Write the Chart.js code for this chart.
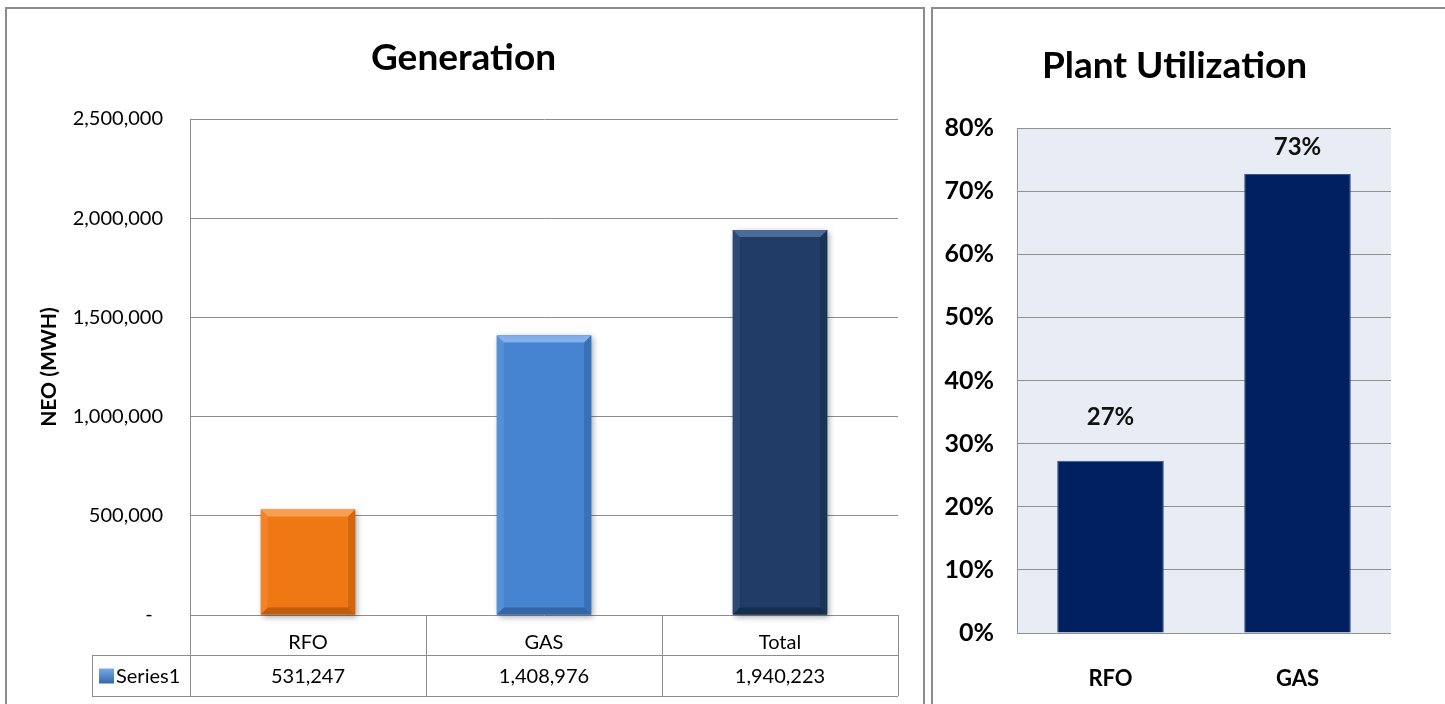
<!DOCTYPE html>
<html>
<head>
<meta charset="utf-8">
<script src="https://cdn.jsdelivr.net/npm/chart.js@4.4.1/dist/chart.umd.min.js"></script>
<style>
  body { margin: 0; width: 1445px; height: 704px; overflow: hidden; background: #fff; font-family: Lato, sans-serif; }
  .panel { position: absolute; border: 2px solid #8c8c8c; box-sizing: border-box; }
  canvas { position: absolute; }
</style>
</head>
<body>
<div class="panel" style="left:5px; top:7px; width:920px; height:720px;"></div>
<div class="panel" style="left:931px; top:7px; width:540px; height:720px;"></div>
<canvas id="genChart" width="915" height="694" style="left:8px; top:10px;"></canvas>
<canvas id="utilChart" width="511" height="694" style="left:934px; top:10px;"></canvas>
<script>
// Generation data (MWH)
const genCategories = ["RFO", "GAS", "Total"];
const genValues = [531247, 1408976, 1940223];
const genSeriesName = "Series1";
const genMax = 2500000;
const genStep = 500000;

// Plant utilization data
const utilCategories = ["RFO", "GAS"];
const utilValues = [0.273, 0.727];
const utilLabels = ["27%", "73%"];
const utilMax = 0.8;
const utilStep = 0.1;

// bar colours: main, light edge, dark edge
const genColors = [
  ["#f07814", "#f7a35a", "#a9520c"],
  ["#4683d0", "#86b6ec", "#2b5a96"],
  ["#1f3d66", "#4f719e", "#132843"]
];

const FONT = "Lato, 'Open Sans', sans-serif";
const gridGray = "#8c8c8c";

function fmt(v) {
  return v.toLocaleString("en-US");
}

// chart title drawn at a fixed spot (the Excel title is centred on the whole panel)
function titlePlugin(text, x, y, size) {
  return {
    id: "panelTitle",
    afterDraw(chart) {
      const ctx = chart.ctx;
      ctx.save();
      ctx.fillStyle = "#000";
      ctx.font = "bold " + size + "px " + FONT;
      ctx.textAlign = "center";
      ctx.textBaseline = "middle";
      ctx.fillText(text, x, y);
      ctx.restore();
    }
  };
}

// drop shadow under the bevel bars
const barShadow = {
  id: "barShadow",
  beforeDatasetsDraw(chart) {
    const ctx = chart.ctx;
    const meta = chart.getDatasetMeta(0);
    ctx.save();
    ctx.shadowColor = "rgba(0,0,0,0.35)";
    ctx.shadowBlur = 6;
    ctx.shadowOffsetX = 2;
    ctx.shadowOffsetY = 2;
    meta.data.forEach((bar, i) => {
      ctx.fillStyle = genColors[i][0];
      ctx.fillRect(bar.x - bar.width / 2, bar.y, bar.width, bar.base - bar.y);
    });
    ctx.restore();
  },
  afterDatasetsDraw(chart) {
    const ctx = chart.ctx;
    const meta = chart.getDatasetMeta(0);
    const b = 7;
    meta.data.forEach((bar, i) => {
      const l = bar.x - bar.width / 2, r = bar.x + bar.width / 2;
      const t = bar.y, bot = bar.base;
      const c = genColors[i];
      const poly = (pts, col, alpha) => {
        ctx.save();
        ctx.globalAlpha = alpha;
        ctx.fillStyle = col;
        ctx.beginPath();
        ctx.moveTo(pts[0][0], pts[0][1]);
        for (let k = 1; k < pts.length; k++) ctx.lineTo(pts[k][0], pts[k][1]);
        ctx.closePath();
        ctx.fill();
        ctx.restore();
      };
      poly([[l, t], [r, t], [r - b, t + b], [l + b, t + b]], c[1], 0.9);
      poly([[l, t], [l + b, t + b], [l + b, bot - b], [l, bot]], c[1], 0.25);
      poly([[r, t], [r, bot], [r - b, bot - b], [r - b, t + b]], c[2], 0.45);
      poly([[l, bot], [l + b, bot - b], [r - b, bot - b], [r, bot]], c[2], 0.7);
    });
  }
};

// data table under the generation chart
const dataTable = {
  id: "dataTable",
  afterDraw(chart) {
    const ctx = chart.ctx;
    const area = chart.chartArea;
    const x = chart.scales.x;
    const half = (x.getPixelForValue(1) - x.getPixelForValue(0)) / 2;
    const rowTop = area.bottom + 40;
    const rowBot = area.bottom + 81;
    const legLeft = 84;
    ctx.save();
    ctx.strokeStyle = gridGray;
    ctx.lineWidth = 1;
    ctx.beginPath();
    // column separators
    for (let i = 0; i < genCategories.length; i++) {
      const xr = Math.round(x.getPixelForValue(i) + half) + 0.5;
      ctx.moveTo(xr, area.bottom);
      ctx.lineTo(xr, rowBot);
    }
    const xl = Math.round(area.left) + 0.5;
    ctx.moveTo(xl, area.bottom);
    ctx.lineTo(xl, rowBot);
    ctx.moveTo(legLeft + 0.5, rowTop);
    ctx.lineTo(legLeft + 0.5, rowBot);
    ctx.moveTo(legLeft, rowTop + 0.5);
    ctx.lineTo(area.right, rowTop + 0.5);
    ctx.moveTo(legLeft, rowBot + 0.5);
    ctx.lineTo(area.right, rowBot + 0.5);
    ctx.stroke();

    const midY = (rowTop + rowBot) / 2 + 1;
    // legend key
    const g = ctx.createLinearGradient(0, midY - 8, 0, midY + 8);
    g.addColorStop(0, "#7aaae4");
    g.addColorStop(1, "#2f62a8");
    ctx.fillStyle = g;
    ctx.fillRect(legLeft + 7, midY - 8, 15, 15);
    ctx.fillStyle = "#000";
    ctx.font = "20px " + FONT;
    ctx.textBaseline = "middle";
    ctx.textAlign = "left";
    ctx.fillText(genSeriesName, legLeft + 24, midY);
    ctx.textAlign = "center";
    genValues.forEach((v, i) => {
      ctx.fillText(fmt(v), x.getPixelForValue(i), midY);
    });
    ctx.restore();
  }
};

new Chart(document.getElementById("genChart"), {
  type: "bar",
  data: {
    labels: genCategories,
    datasets: [{
      label: genSeriesName,
      data: genValues,
      backgroundColor: genColors.map(c => c[0]),
      barPercentage: 0.40,
      categoryPercentage: 1.0
    }]
  },
  options: {
    responsive: false,
    animation: false,
    layout: { padding: { left: 0, right: 25, top: 109, bottom: 0 } },
    plugins: {
      legend: { display: false },
      tooltip: { enabled: false },
      title: { display: false }
    },
    scales: {
      x: {
        grid: { display: false },
        border: { display: false },
        ticks: { color: "#000", font: { family: FONT, size: 20 }, padding: 8 },
        afterFit(scale) { scale.height = 89; }
      },
      y: {
        min: 0,
        max: genMax,
        ticks: {
          stepSize: genStep,
          color: "#000",
          font: { family: FONT, size: 20 },
          padding: 27,
          callback: v => v === 0 ? "-  " : fmt(v)
        },
        grid: { color: gridGray, drawTicks: false, lineWidth: 1 },
        border: { display: true, color: gridGray },
        title: {
          display: true,
          text: "NEO (MWH)",
          color: "#000",
          font: { family: FONT, size: 21, weight: "bold" },
          padding: { top: 29, bottom: 0 }
        },
        afterFit(scale) { scale.width = 182; }
      }
    }
  },
  plugins: [barShadow, dataTable, titlePlugin("Generation", 455.5, 48, 37)]
});

// plot background + value labels for the utilization chart
const plotBg = {
  id: "plotBg",
  beforeDraw(chart) {
    const a = chart.chartArea;
    const ctx = chart.ctx;
    ctx.save();
    ctx.fillStyle = "#e8ecf4";
    ctx.fillRect(a.left, a.top, a.right - a.left, a.bottom - a.top);
    ctx.restore();
  }
};

const utilValueLabels = {
  id: "utilValueLabels",
  afterDatasetsDraw(chart) {
    const ctx = chart.ctx;
    const a = chart.chartArea;
    const meta = chart.getDatasetMeta(0);
    ctx.save();
    ctx.fillStyle = "#111";
    ctx.font = "bold 24px " + FONT;
    ctx.textAlign = "center";
    ctx.textBaseline = "middle";
    meta.data.forEach((bar, i) => {
      const y = Math.max(bar.y - 43, a.top + 19);
      ctx.fillText(utilLabels[i], bar.x, y);
    });
    ctx.restore();
  }
};

new Chart(document.getElementById("utilChart"), {
  type: "bar",
  data: {
    labels: utilCategories,
    datasets: [{
      data: utilValues,
      backgroundColor: "#002060",
      borderColor: "#3b5788",
      borderWidth: 1,
      barPercentage: 0.57,
      categoryPercentage: 1.0
    }]
  },
  options: {
    responsive: false,
    animation: false,
    layout: { padding: { left: 0, right: 54, top: 118, bottom: 0 } },
    plugins: {
      legend: { display: false },
      tooltip: { enabled: false },
      title: { display: false }
    },
    scales: {
      x: {
        grid: { display: false },
        border: { display: false },
        ticks: { color: "#000", font: { family: FONT, size: 22, weight: "bold" }, padding: 25 },
        afterFit(scale) { scale.height = 71; }
      },
      y: {
        min: 0,
        max: utilMax,
        ticks: {
          stepSize: utilStep,
          color: "#000",
          font: { family: FONT, size: 25, weight: "bold" },
          padding: 23,
          callback: v => Math.round(v * 100) + "%"
        },
        grid: { color: "#909090", drawTicks: false, lineWidth: 1 },
        border: { display: true, color: "#909090" },
        afterFit(scale) { scale.width = 83; }
      }
    }
  },
  plugins: [plotBg, utilValueLabels, titlePlugin("Plant Utilization", 240.5, 56, 37)]
});
</script>
</body>
</html>
